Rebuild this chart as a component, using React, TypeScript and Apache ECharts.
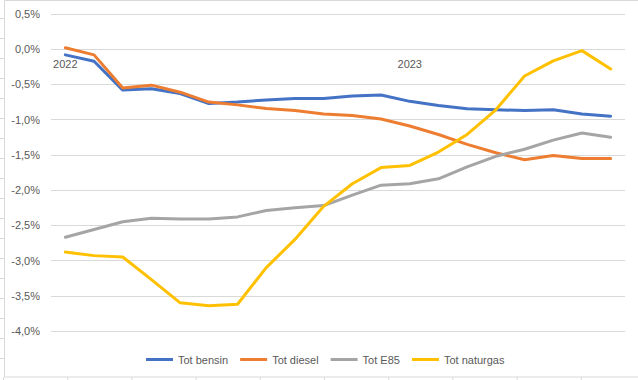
import React, { useEffect, useRef } from "react";
import * as echarts from "echarts";

const categories = [
  "2022-01", "2022-02", "2022-03", "2022-04", "2022-05", "2022-06",
  "2022-07", "2022-08", "2022-09", "2022-10", "2022-11", "2022-12",
  "2023-01", "2023-02", "2023-03", "2023-04", "2023-05", "2023-06",
  "2023-07", "2023-08",
];

const bensin = [-0.08, -0.17, -0.58, -0.56, -0.63, -0.77, -0.75, -0.72, -0.7, -0.7,
  -0.665, -0.65, -0.74, -0.8, -0.845, -0.86, -0.87, -0.86, -0.92, -0.95];
const diesel = [0.02, -0.08, -0.55, -0.51, -0.61, -0.75, -0.79, -0.84, -0.87, -0.92,
  -0.94, -0.99, -1.09, -1.21, -1.35, -1.47, -1.57, -1.51, -1.55, -1.55];
const e85 = [-2.67, -2.56, -2.45, -2.4, -2.41, -2.41, -2.38, -2.29, -2.25, -2.22,
  -2.07, -1.93, -1.91, -1.84, -1.67, -1.52, -1.42, -1.29, -1.19, -1.25];
const naturgas = [-2.88, -2.93, -2.95, -3.27, -3.6, -3.64, -3.62, -3.1, -2.7, -2.23,
  -1.91, -1.68, -1.65, -1.46, -1.21, -0.86, -0.38, -0.165, -0.02, -0.28];

const seriesNames = ["Tot bensin", "Tot diesel", "Tot E85", "Tot naturgas"];
const seriesColors = ["#4472C4", "#ED7D31", "#A5A5A5", "#FFC000"];

export default function App() {
  const ref = useRef<HTMLDivElement>(null);
  useEffect(() => {
    if (!ref.current) return;
    const chart = echarts.init(ref.current, null, { renderer: "svg" });
    const font = "'Liberation Sans', Arial, sans-serif";
    const data = [bensin, diesel, e85, naturgas];

    const sheetLines: any[] = [];
    for (let k = 0; k < 18; k++) {
      const y = 18.5 + 20 * k;
      sheetLines.push({ type: "line", silent: true, shape: { x1: 0, y1: y, x2: 4, y2: y }, style: { stroke: "#d9d9d9", lineWidth: 1 } });
    }
    for (let k = 0; k < 10; k++) {
      const x = 3.5 + 64.2 * k;
      sheetLines.push({ type: "line", silent: true, shape: { x1: x, y1: 377, x2: x, y2: 380 }, style: { stroke: "#d9d9d9", lineWidth: 1 } });
    }

    chart.setOption({
      animation: false,
      backgroundColor: "#ffffff",
      textStyle: { fontFamily: font },
      grid: { left: 51, right: 13, top: 14, bottom: 49, containLabel: false },
      legend: {
        left: 141,
        top: 349,
        icon: "rect",
        itemWidth: 27,
        itemHeight: 3,
        itemGap: 12,
        textStyle: { color: "#595959", fontSize: 11, fontFamily: font },
        data: seriesNames,
      },
      xAxis: {
        type: "category",
        data: categories,
        boundaryGap: true,
        offset: -282,
        axisLine: { show: false, onZero: false },
        axisTick: { show: false },
        splitLine: { show: false },
        axisLabel: {
          interval: 0,
          margin: 9,
          color: "#595959",
          fontSize: 11,
          fontFamily: font,
          formatter: (v: string) => (v.endsWith("-01") ? v.slice(0, 4) : ""),
        },
      },
      yAxis: {
        type: "value",
        min: -4,
        max: 0.5,
        interval: 0.5,
        axisLine: { show: false },
        axisTick: { show: false },
        splitLine: { lineStyle: { color: "#d9d9d9", width: 1 } },
        axisLabel: {
          margin: 11,
          color: "#595959",
          fontSize: 11,
          fontFamily: font,
          formatter: (v: number) => v.toFixed(1).replace(".", ",") + "%",
        },
      },
      series: seriesNames.map((name, i) => ({
        name,
        type: "line",
        data: data[i],
        symbol: "none",
        showSymbol: false,
        lineStyle: { color: seriesColors[i], width: 3, join: "round", cap: "round" },
        itemStyle: { color: seriesColors[i] },
      })),
      graphic: [
        {
          type: "rect",
          silent: true,
          shape: { x: 4.5, y: 0.5, width: 700, height: 376.5 },
          style: { fill: "none", stroke: "#d9d9d9", lineWidth: 1 },
        },
        ...sheetLines,
      ],
    });
    return () => chart.dispose();
  }, []);
  return (
    <div
      ref={ref}
      style={{ position: "fixed", left: 0, top: 0, width: 638, height: 380 }}
    />
  );
}
